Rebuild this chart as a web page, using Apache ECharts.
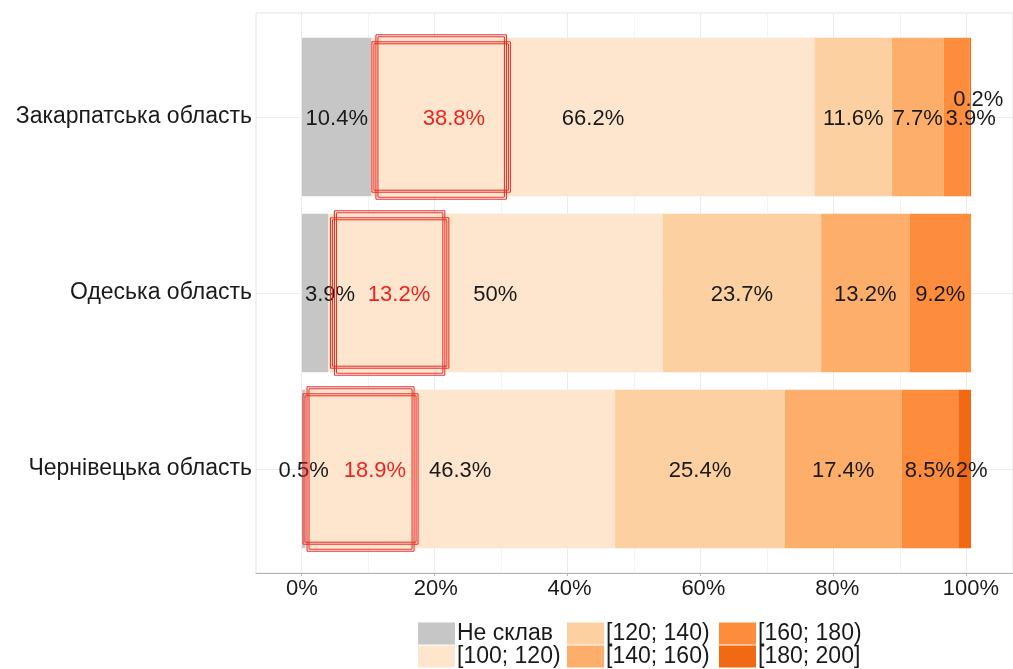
<!DOCTYPE html>
<html>
<head>
<meta charset="utf-8">
<script src="https://cdn.jsdelivr.net/npm/echarts@6/dist/echarts.min.js"></script>
<style>
  html, body { margin: 0; padding: 0; background: #fff; }
  #chart { width: 1013px; height: 669px; }
</style>
</head>
<body>
<div id="chart"></div>
<script>
// regions, top to bottom
const regions = ['Закарпатська область', 'Одеська область', 'Чернівецька область']

// share of each score band, %
const bandNames = ['Не склав', '[100; 120)', '[120; 140)', '[140; 160)', '[160; 180)', '[180; 200]']
const notPassed = [10.4, 3.9, 0.5]
const band100 = [66.2, 50, 46.3]
const band120 = [11.6, 23.7, 25.4]
const band140 = [7.7, 13.2, 17.4]
const band160 = [3.9, 9.2, 8.5]
const band180 = [0.2, 0, 2]
const bandValues = [notPassed, band100, band120, band140, band160, band180]

// red highlighted annotation inside [100; 120)
const highlightValue = [38.8, 13.2, 18.9]
const highlightFrom = [10.3, 4.1, 0]
const highlightTo = [31.3, 22.1, 17.5]
const highlightAt = [22.7, 14.5, 10.9]

// axis ticks
const xTicks = [0, 20, 40, 60, 80, 100]
const xGrid = [0, 10, 20, 30, 40, 50, 60, 70, 80, 90, 100]

const bandColors = ['#c6c6c6', '#fee6ce', '#fdd0a2', '#fdae6b', '#fd8d3c', '#f16913']
const textColor = '#1a1a1a'
const font = "'Liberation Sans', Arial, sans-serif"
const redColor = '#e8261f'

// label nudges (labels pushed aside to avoid overlap) -> seriesIndex_catIndex: [dx, dy]
const labelNudge = { '5_0': [8, -17], '4_0': [14, 2], '0_1': [15, 2], '5_2': [7, 2] }

const chart = echarts.init(document.getElementById('chart'))

const barSeries = bandNames.map((name, si) => ({
  name,
  type: 'bar',
  stack: 'total',
  xAxisIndex: 0,
  yAxisIndex: 0,
  barWidth: '90%',
  zlevel: 1,
  itemStyle: { color: bandColors[si] },
  label: {
    show: true,
    position: 'inside',
    offset: [0, 2],
    color: textColor,
    fontSize: 22,
    fontFamily: font,
    formatter: p => (p.value ? p.value + '%' : '')
  },
  data: bandValues[si].map((v, ci) => {
    const n = labelNudge[si + '_' + ci]
    return n ? { value: v, label: { offset: n } } : v
  })
}))

const gridLines = xGrid.map(v => ({
  xAxis: v,
  lineStyle: { color: v % 20 === 0 ? '#ebebeb' : '#f3f3f3', width: 1, type: 'solid' }
})).concat(regions.map((r, i) => ({
  yAxis: i + 1,
  lineStyle: { color: '#ebebeb', width: 1, type: 'solid' }
})))

const option = {
  animation: false,
  backgroundColor: '#fff',
  textStyle: { fontFamily: font },
  grid: [
    { left: 302, right: 42, top: 29, bottom: 112 },
    { left: 256, right: -5, top: 13, bottom: 96, show: true, borderColor: '#e3e3e3', borderWidth: 1, backgroundColor: 'transparent' }
  ],
  xAxis: [
    {
      type: 'value', gridIndex: 0, min: 0, max: 100, interval: 20,
      axisLine: { show: false }, axisTick: { show: false }, splitLine: { show: false },
      axisLabel: { formatter: '{value}%', color: textColor, fontSize: 22, fontFamily: font, margin: 21 }
    },
    {
      type: 'value', gridIndex: 1, min: -6.88, max: 107.0,
      axisLine: { show: true, lineStyle: { color: '#b3b3b3' } },
      axisTick: { show: true, length: 3, customValues: xTicks, lineStyle: { color: '#b3b3b3' } },
      axisLabel: { show: false }, splitLine: { show: false }
    }
  ],
  yAxis: [
    {
      type: 'category', gridIndex: 0, data: regions, inverse: true,
      axisLine: { show: false }, axisTick: { show: false }, splitLine: { show: false },
      axisLabel: { color: textColor, fontSize: 23, fontFamily: font, margin: 50 }
    },
    {
      type: 'value', gridIndex: 1, min: 0.41, max: 3.59, inverse: true,
      axisLine: { show: true, lineStyle: { color: '#a8a8a8' } },
      axisTick: { show: true, length: 3, customValues: [1, 2, 3], lineStyle: { color: '#a8a8a8' } },
      axisLabel: { show: false }, splitLine: { show: false }
    }
  ],
  legend: [
    [bandNames[0], bandNames[1]],
    [bandNames[2], bandNames[3]],
    [bandNames[4], bandNames[5]]
  ].map((names, i) => ({
    data: names,
    orient: 'vertical',
    left: [418, 567, 719][i],
    top: 622,
    padding: 0,
    itemGap: 0,
    itemWidth: 37,
    itemHeight: 22,
    icon: 'rect',
    selectedMode: false,
    textStyle: { color: textColor, fontSize: 23, fontFamily: font, lineHeight: 22, padding: [0, 0, 0, -3] }
  })),
  series: [
    {
      name: 'grid',
      type: 'scatter',
      xAxisIndex: 1,
      yAxisIndex: 1,
      data: [],
      zlevel: 0,
      z: 0,
      silent: true,
      markLine: { silent: true, symbol: ['none', 'none'], label: { show: false }, animation: false, data: gridLines }
    },
    ...barSeries,
    {
      name: 'highlight',
      type: 'custom',
      xAxisIndex: 0,
      yAxisIndex: 0,
      zlevel: 1,
      z: 5,
      silent: true,
      encode: { x: [1, 2, 3], y: 0 },
      data: regions.map((r, i) => [i, highlightFrom[i], highlightTo[i], highlightAt[i], highlightValue[i]]),
      renderItem: (params, api) => {
        const cat = api.value(0)
        const a = api.coord([api.value(1), cat])
        const b = api.coord([api.value(2), cat])
        const t = api.coord([api.value(3), cat])
        const h = api.size([0, 1])[1] * 0.9
        const top = a[1] - h / 2
        const x0 = a[0] + 1
        const w = b[0] - a[0] - 2
        const st = { fill: 'none', stroke: redColor, lineWidth: 1 }
        return {
          type: 'group',
          children: [
            { type: 'rect', shape: { x: x0, y: top + 4, width: w, height: h - 8 }, style: st },
            { type: 'rect', shape: { x: x0 + 2, y: top + 6, width: w - 4, height: h - 12 }, style: st },
            { type: 'rect', shape: { x: x0 + 4, y: top - 3, width: w - 8, height: h + 6 }, style: st },
            { type: 'rect', shape: { x: x0 + 6, y: top - 1, width: w - 12, height: h + 2 }, style: st },
            {
              type: 'text',
              style: {
                x: t[0], y: t[1] + 2, text: api.value(4) + '%', fill: redColor,
                fontSize: 22, fontFamily: font, align: 'center', verticalAlign: 'middle'
              }
            }
          ]
        }
      }
    }
  ]
}

chart.setOption(option)
</script>
</body>
</html>
